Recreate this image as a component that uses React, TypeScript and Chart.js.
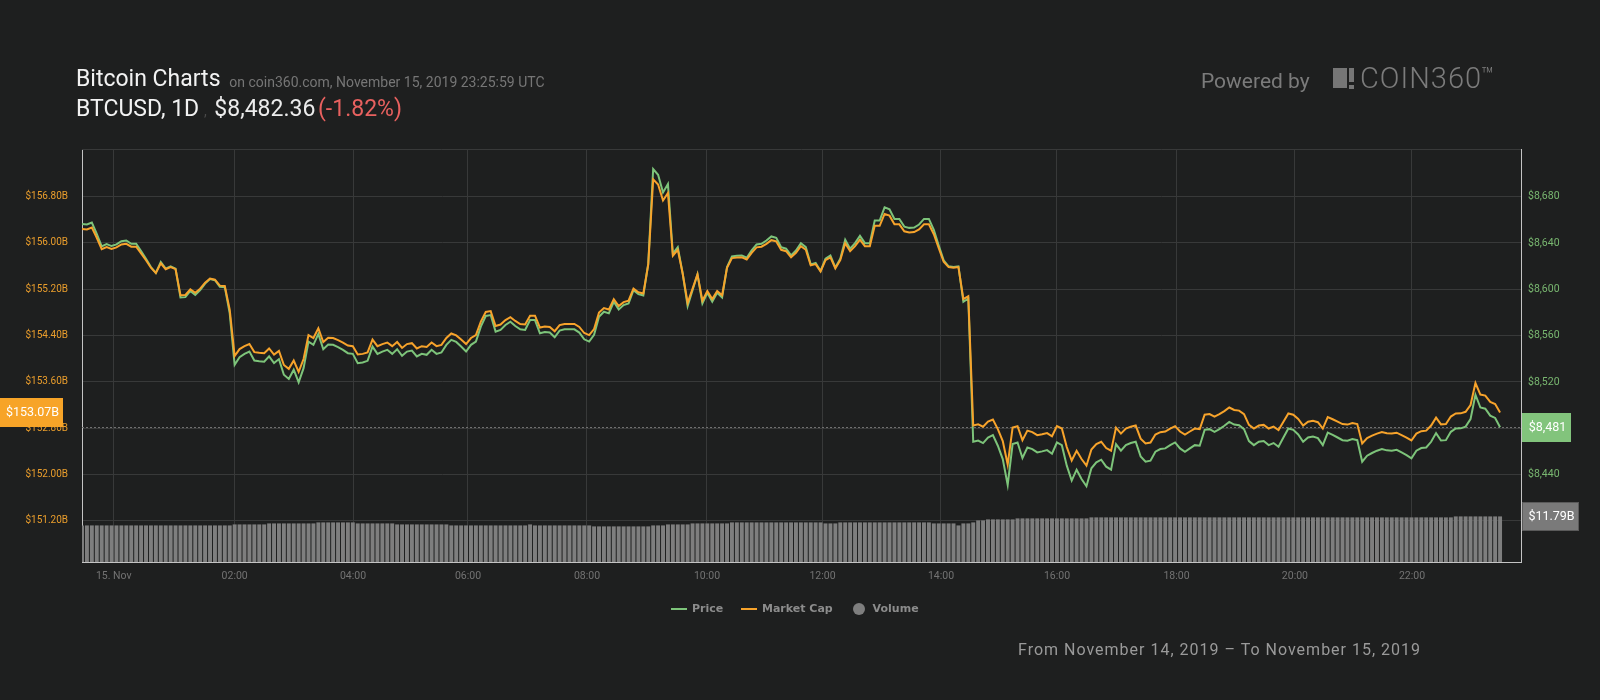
import React, { useEffect, useRef } from "react";
import { Chart, registerables } from "chart.js";

Chart.register(...registerables);

// ---- Data (5-minute samples, Nov 14 23:25 -> Nov 15 23:25 UTC) ----
const price = [
  8656.5, 8656.0, 8657.7, 8648.0, 8637.1, 8639.1, 8637.4, 8638.8, 8641.6, 8642.2,
  8639.4, 8639.4, 8633.1, 8626.5, 8619.3, 8614.2, 8623.6, 8617.9, 8619.9, 8617.9,
  8593.0, 8593.3, 8598.7, 8595.3, 8599.3, 8605.0, 8609.0, 8607.9, 8602.2, 8601.9,
  8579.3, 8534.9, 8541.5, 8544.3, 8546.3, 8538.6, 8538.0, 8537.5, 8542.1, 8536.3,
  8539.8, 8526.3, 8522.6, 8530.6, 8519.7, 8532.0, 8554.9, 8552.1, 8561.5, 8548.3,
  8552.4, 8552.1, 8550.1, 8547.8, 8544.9, 8544.3, 8536.3, 8536.9, 8538.3, 8550.6,
  8544.3, 8546.3, 8547.8, 8544.3, 8548.3, 8542.6, 8546.3, 8547.2, 8542.1, 8544.3,
  8543.5, 8547.8, 8544.3, 8545.5, 8552.1, 8556.4, 8554.6, 8550.6, 8546.3, 8552.1,
  8554.9, 8567.8, 8577.0, 8577.8, 8563.5, 8565.0, 8569.2, 8572.1, 8568.4, 8565.5,
  8565.0, 8573.5, 8573.5, 8562.1, 8563.2, 8562.7, 8558.6, 8564.4, 8565.5, 8565.5,
  8565.5, 8562.7, 8556.9, 8554.9, 8560.7, 8576.4, 8580.7, 8579.3, 8589.3, 8582.7,
  8586.4, 8587.8, 8599.3, 8595.9, 8594.7, 8622.2, 8703.8, 8698.9, 8683.7, 8690.9,
  8630.8, 8636.5, 8613.6, 8585.6, 8599.3, 8613.0, 8587.8, 8597.0, 8589.3, 8597.0,
  8593.0, 8619.3, 8628.5, 8629.1, 8629.3, 8627.3, 8633.6, 8638.8, 8639.4, 8642.2,
  8645.7, 8644.5, 8636.5, 8635.1, 8629.3, 8633.6, 8639.9, 8636.5, 8621.6, 8622.8,
  8615.9, 8626.5, 8629.3, 8618.8, 8626.5, 8642.8, 8635.1, 8639.9, 8646.2, 8639.9,
  8639.9, 8659.4, 8659.4, 8670.8, 8669.1, 8660.8, 8660.8, 8654.2, 8653.1, 8653.4,
  8656.0, 8660.8, 8660.8, 8651.4, 8637.9, 8625.0, 8619.9, 8619.3, 8619.9, 8589.3,
  8592.1, 8468.4, 8469.5, 8467.3, 8472.1, 8474.1, 8465.0, 8453.5, 8431.1, 8466.4,
  8467.8, 8454.4, 8463.5, 8462.1, 8459.2, 8460.1, 8461.2, 8458.1, 8467.8, 8465.5,
  8447.8, 8434.9, 8444.3, 8436.3, 8430.0, 8445.5, 8450.6, 8452.9, 8446.9, 8444.3,
  8466.4, 8460.7, 8465.5, 8467.3, 8468.4, 8455.8, 8451.2, 8452.1, 8459.8, 8462.1,
  8462.7, 8465.5, 8467.8, 8462.7, 8459.8, 8462.7, 8465.5, 8465.0, 8478.7, 8479.3,
  8477.0, 8479.3, 8482.2, 8485.6, 8483.3, 8482.7, 8479.3, 8469.0, 8465.5, 8468.4,
  8469.0, 8465.5, 8467.3, 8464.1, 8472.1, 8479.9, 8478.7, 8474.7, 8468.4, 8472.1,
  8473.0, 8471.6, 8465.5, 8476.4, 8474.4, 8472.1, 8469.8, 8469.3, 8470.7, 8469.8,
  8451.2, 8456.4, 8458.7, 8460.7, 8462.1, 8461.0, 8460.7, 8461.5, 8459.2, 8456.9,
  8454.1, 8460.7, 8463.0, 8463.5, 8468.4, 8475.9, 8469.5, 8469.8, 8477.0, 8479.9,
  8480.0, 8481.5, 8488.0, 8509.0, 8498.0, 8497.0, 8491.0, 8489.0, 8481.0,
];

// Market cap, billions USD
const marketCap = [
  156.241, 156.232, 156.263, 156.088, 155.891, 155.927, 155.896, 155.922, 155.972, 155.983,
  155.933, 155.933, 155.819, 155.700, 155.570, 155.478, 155.647, 155.545, 155.581, 155.545,
  155.095, 155.101, 155.198, 155.137, 155.209, 155.312, 155.384, 155.364, 155.261, 155.256,
  154.848, 154.046, 154.166, 154.216, 154.252, 154.113, 154.102, 154.093, 154.176, 154.072,
  154.135, 153.891, 153.824, 153.969, 153.772, 153.994, 154.407, 154.357, 154.526, 154.288,
  154.362, 154.357, 154.321, 154.279, 154.227, 154.216, 154.072, 154.083, 154.108, 154.330,
  154.216, 154.252, 154.279, 154.216, 154.288, 154.185, 154.252, 154.268, 154.176, 154.216,
  154.202, 154.279, 154.216, 154.238, 154.357, 154.435, 154.402, 154.330, 154.252, 154.357,
  154.407, 154.640, 154.806, 154.821, 154.563, 154.590, 154.666, 154.718, 154.651, 154.599,
  154.590, 154.743, 154.743, 154.537, 154.557, 154.548, 154.474, 154.579, 154.599, 154.599,
  154.599, 154.548, 154.443, 154.407, 154.512, 154.795, 154.873, 154.848, 155.028, 154.909,
  154.976, 155.001, 155.209, 155.147, 155.126, 155.622, 157.095, 157.006, 156.732, 156.862,
  155.777, 155.880, 155.467, 154.961, 155.209, 155.456, 155.001, 155.167, 155.028, 155.167,
  155.095, 155.570, 155.736, 155.747, 155.750, 155.714, 155.828, 155.922, 155.933, 155.983,
  156.046, 156.025, 155.880, 155.855, 155.750, 155.828, 155.942, 155.880, 155.611, 155.633,
  155.508, 155.700, 155.750, 155.561, 155.700, 155.994, 155.855, 155.942, 156.055, 155.942,
  155.942, 156.294, 156.294, 156.499, 156.469, 156.319, 156.319, 156.200, 156.180, 156.185,
  156.232, 156.319, 156.319, 156.149, 155.906, 155.673, 155.581, 155.570, 155.581, 155.028,
  155.079, 152.846, 152.866, 152.826, 152.913, 152.949, 152.785, 152.577, 152.173, 152.810,
  152.835, 152.593, 152.758, 152.732, 152.680, 152.696, 152.716, 152.660, 152.835, 152.794,
  152.474, 152.242, 152.411, 152.267, 152.153, 152.433, 152.525, 152.566, 152.458, 152.411,
  152.810, 152.707, 152.794, 152.826, 152.846, 152.619, 152.536, 152.552, 152.691, 152.732,
  152.743, 152.794, 152.835, 152.743, 152.691, 152.743, 152.794, 152.785, 153.032, 153.043,
  153.001, 153.043, 153.095, 153.157, 153.115, 153.104, 153.043, 152.857, 152.794, 152.846,
  152.857, 152.794, 152.826, 152.769, 152.913, 153.054, 153.032, 152.960, 152.846, 152.913,
  152.929, 152.904, 152.794, 152.991, 152.954, 152.913, 152.871, 152.862, 152.888, 152.871,
  152.536, 152.630, 152.671, 152.707, 152.732, 152.713, 152.707, 152.722, 152.680, 152.639,
  152.588, 152.707, 152.749, 152.758, 152.846, 152.982, 152.866, 152.871, 153.001, 153.054,
  153.056, 153.083, 153.200, 153.579, 153.380, 153.362, 153.254, 153.218, 153.070,
];

// 24h volume, billions USD
const volume = [
  9.46, 9.46, 9.46, 9.46, 9.46, 9.46, 9.46, 9.46, 9.46, 9.46,
  9.46, 9.46, 9.46, 9.46, 9.46, 9.46, 9.46, 9.46, 9.46, 9.46,
  9.46, 9.46, 9.46, 9.46, 9.46, 9.46, 9.46, 9.46, 9.46, 9.46,
  9.46, 9.72, 9.72, 9.72, 9.72, 9.72, 9.72, 9.72, 9.98, 9.98,
  9.98, 9.98, 9.98, 9.98, 9.98, 9.98, 9.98, 9.98, 10.24, 10.24,
  10.24, 10.24, 10.24, 10.24, 10.24, 10.24, 9.98, 9.98, 9.98, 9.98,
  9.98, 9.98, 9.98, 9.98, 9.72, 9.72, 9.72, 9.72, 9.72, 9.72,
  9.72, 9.72, 9.72, 9.72, 9.72, 9.46, 9.46, 9.46, 9.46, 9.46,
  9.46, 9.46, 9.46, 9.46, 9.46, 9.46, 9.46, 9.46, 9.46, 9.46,
  9.46, 9.72, 9.46, 9.46, 9.46, 9.46, 9.46, 9.46, 9.46, 9.46,
  9.46, 9.46, 9.46, 9.46, 9.21, 9.21, 9.21, 9.21, 9.21, 9.21,
  9.21, 9.21, 9.21, 9.21, 9.21, 9.21, 9.46, 9.46, 9.46, 9.72,
  9.72, 9.72, 9.72, 9.72, 9.98, 9.98, 9.98, 9.98, 9.98, 9.98,
  9.98, 9.98, 10.24, 10.24, 10.24, 10.24, 10.24, 10.24, 10.24, 10.24,
  10.24, 10.24, 10.24, 10.24, 10.24, 10.24, 10.24, 10.24, 10.24, 10.24,
  10.24, 9.98, 9.98, 9.98, 10.24, 10.24, 10.24, 10.24, 10.24, 10.24,
  10.24, 10.24, 10.24, 10.24, 10.24, 10.24, 10.24, 10.24, 10.24, 10.24,
  10.24, 10.24, 10.24, 9.98, 9.98, 9.98, 9.98, 9.98, 9.46, 9.98,
  9.98, 10.24, 10.76, 10.76, 11.02, 11.02, 11.02, 11.02, 11.02, 11.02,
  11.28, 11.28, 11.28, 11.28, 11.28, 11.28, 11.28, 11.28, 11.28, 11.28,
  11.28, 11.28, 11.28, 11.28, 11.28, 11.54, 11.54, 11.54, 11.54, 11.54,
  11.54, 11.54, 11.54, 11.54, 11.54, 11.54, 11.54, 11.54, 11.54, 11.54,
  11.54, 11.54, 11.54, 11.54, 11.54, 11.54, 11.54, 11.54, 11.54, 11.54,
  11.54, 11.54, 11.54, 11.54, 11.54, 11.54, 11.54, 11.54, 11.54, 11.54,
  11.54, 11.54, 11.54, 11.54, 11.54, 11.54, 11.54, 11.54, 11.54, 11.54,
  11.54, 11.54, 11.54, 11.54, 11.54, 11.54, 11.54, 11.54, 11.54, 11.54,
  11.54, 11.54, 11.54, 11.54, 11.54, 11.54, 11.54, 11.54, 11.54, 11.54,
  11.54, 11.54, 11.54, 11.54, 11.54, 11.54, 11.54, 11.54, 11.54, 11.79,
  11.79, 11.79, 11.79, 11.79, 11.79, 11.79, 11.79, 11.79, 11.79,
];

// x-axis: sample index where each time label falls
const timeTickIndex = [6.44, 31.01, 55.04, 78.39, 102.56, 126.93, 150.39, 174.45, 198.01, 222.28, 246.34, 270.11];
const timeTickLabels = ["15. Nov", "02:00", "04:00", "06:00", "08:00", "10:00", "12:00", "14:00", "16:00", "18:00", "20:00", "22:00"];
const capTicks = [151.2, 152.0, 152.8, 153.6, 154.4, 155.2, 156.0, 156.8];
const priceTicks = [8400, 8440, 8480, 8520, 8560, 8600, 8640, 8680];
const capMin = 150.49;
const capMax = 157.62;
const priceMin = 8364.6;
const priceMax = 8721.2;
const volumeMax = 106.8;
const xMax = 292.25;

const FONT = "Roboto, 'DejaVu Sans', sans-serif";
const GRID = "#383939";
const AXIS = "#c4c4c4";

function drawTag(ctx: CanvasRenderingContext2D, x: number, cy: number, w: number, h: number, fill: string, text: string, stroke?: string) {
  const top = Math.round(cy - h / 2);
  ctx.fillStyle = fill;
  ctx.fillRect(x, top, w, h);
  if (stroke) {
    ctx.strokeStyle = stroke;
    ctx.lineWidth = 1;
    ctx.strokeRect(x + 0.5, top + 0.5, w - 1, h - 1);
  }
  ctx.fillStyle = "#ffffff";
  ctx.font = `12.5px ${FONT}`;
  ctx.textAlign = "center";
  ctx.textBaseline = "middle";
  ctx.fillText(text, x + w / 2 + 1, top + h / 2 + 0.5);
}

const overlayPlugin = {
  id: "overlay",
  beforeDatasetsDraw(chart: any) {
    const { ctx, chartArea: a, scales } = chart;
    ctx.save();
    ctx.strokeStyle = GRID;
    ctx.lineWidth = 1;
    ctx.beginPath();
    ctx.moveTo(a.left, a.top + 0.5);
    ctx.lineTo(a.right, a.top + 0.5);
    ctx.stroke();
    const yP = Math.round(scales.yPrice.getPixelForValue(price[price.length - 1])) + 0.5;
    ctx.setLineDash([2, 2]);
    ctx.strokeStyle = "#707070";
    ctx.beginPath();
    ctx.moveTo(a.left, yP);
    ctx.lineTo(a.right, yP);
    ctx.stroke();
    ctx.restore();
  },
  afterDraw(chart: any) {
    const { ctx, chartArea: a, scales } = chart;
    ctx.save();
    const lastCap = marketCap[marketCap.length - 1];
    const lastPrice = price[price.length - 1];
    const lastVol = volume[volume.length - 1];
    drawTag(ctx, 0, scales.yCap.getPixelForValue(lastCap), 63, 29, "#f7a428", "$" + lastCap.toFixed(2) + "B");
    drawTag(ctx, a.right + 1, scales.yPrice.getPixelForValue(lastPrice), 49, 29, "#82c47c", "$" + Math.round(lastPrice).toLocaleString("en-US"));
    drawTag(ctx, a.right + 1, scales.yVol.getPixelForValue(lastVol), 57, 29, "#7a7a7a", "$" + lastVol.toFixed(2) + "B", "#5a5a5a");
    ctx.restore();
  },
};

function Txt(p: { x: number; base: number; size: number; color: string; weight?: number; family?: string; spacing?: number; children: any }) {
  return (
    <div
      style={{
        position: "absolute",
        left: p.x,
        top: p.base - 0.842 * p.size,
        fontSize: p.size,
        lineHeight: `${p.size}px`,
        color: p.color,
        fontWeight: p.weight ?? 400,
        fontFamily: p.family ?? FONT,
        letterSpacing: p.spacing ?? 0,
        whiteSpace: "nowrap",
      }}
    >
      {p.children}
    </div>
  );
}

export default function App() {
  const ref = useRef<HTMLCanvasElement>(null);

  useEffect(() => {
    document.body.style.margin = "0";
    const canvas = ref.current!;
    const chart = new Chart(canvas, {
      type: "line",
      data: {
        datasets: [
          {
            label: "Market Cap",
            data: marketCap.map((v, i) => ({ x: i, y: v })),
            yAxisID: "yCap",
            borderColor: "#f7a32b",
            borderWidth: 2,
            pointRadius: 0,
            tension: 0,
            order: 1,
          } as any,
          {
            label: "Price",
            data: price.map((v, i) => ({ x: i, y: v })),
            yAxisID: "yPrice",
            borderColor: "#7dc47a",
            borderWidth: 2,
            pointRadius: 0,
            tension: 0,
            order: 2,
          } as any,
          {
            type: "bar",
            label: "Volume",
            data: volume.map((v, i) => ({ x: i, y: v })),
            yAxisID: "yVol",
            backgroundColor: "#7e7e7e",
            borderWidth: 0,
            barPercentage: 0.8,
            categoryPercentage: 1,
            order: 3,
          } as any,
        ],
      },
      options: {
        responsive: false,
        animation: false,
        devicePixelRatio: 1,
        events: [],
        layout: { padding: { top: 149, left: 0, right: 0, bottom: 0 } },
        plugins: { legend: { display: false }, tooltip: { enabled: false } },
        scales: {
          x: {
            type: "linear",
            min: 0,
            max: xMax,
            offset: false,
            afterFit: (s: any) => { s.height = 138; },
            afterBuildTicks: (s: any) => { s.ticks = timeTickIndex.map((v) => ({ value: v })); },
            grid: { color: GRID, drawTicks: false, offset: false },
            border: { color: AXIS, width: 1 },
            ticks: {
              autoSkip: false,
              maxRotation: 0,
              padding: 8,
              color: "#737373",
              font: { family: FONT, size: 10.5 },
              callback: (_v: any, i: number) => timeTickLabels[i],
            },
          },
          yCap: {
            type: "linear",
            position: "left",
            min: capMin,
            max: capMax,
            afterFit: (s: any) => { s.width = 82; },
            afterBuildTicks: (s: any) => { s.ticks = capTicks.map((v) => ({ value: v })); },
            grid: { color: GRID, drawTicks: false },
            border: { color: AXIS, width: 1 },
            ticks: {
              padding: 14,
              color: "#e99d2c",
              font: { family: FONT, size: 10 },
              callback: (v: any) => "$" + Number(v).toFixed(2) + "B",
            },
          },
          yPrice: {
            type: "linear",
            position: "right",
            min: priceMin,
            max: priceMax,
            afterFit: (s: any) => { s.width = 79; },
            afterBuildTicks: (s: any) => { s.ticks = priceTicks.map((v) => ({ value: v })); },
            grid: { drawOnChartArea: false, drawTicks: false },
            border: { color: AXIS, width: 1 },
            ticks: {
              padding: 7,
              color: "#79b770",
              font: { family: FONT, size: 10.5 },
              callback: (v: any) => "$" + Number(v).toLocaleString("en-US"),
            },
          },
          yVol: { type: "linear", display: false, min: 0, max: volumeMax },
        },
      } as any,
      plugins: [overlayPlugin as any],
    });
    return () => chart.destroy();
  }, []);

  return (
    <div style={{ position: "absolute", left: 0, top: 0, width: 1600, height: 700, background: "#1e1f1f", overflow: "hidden" }}>
      <canvas ref={ref} width={1600} height={700} style={{ position: "absolute", left: 0, top: 0, width: 1600, height: 700 }} />

      <Txt x={76} base={86.7} size={23} color="#f2f2f2">Bitcoin Charts</Txt>
      <Txt x={229.3} base={86.7} size={14} color="#767676">on coin360.com, November 15, 2019 23:25:59 UTC</Txt>
      <Txt x={76} base={116} size={23} color="#f2f2f2">BTCUSD, 1D</Txt>
      <Txt x={204} base={116} size={14} color="#4a4a4a">,</Txt>
      <Txt x={214.3} base={116} size={23} color="#ececec">$8,482.36</Txt>
      <Txt x={318} base={116} size={23} color="#e8615f">(-1.82%)</Txt>

      <Txt x={1201} base={88.3} size={21} color="#7b7b7b">Powered by</Txt>
      <div style={{ position: "absolute", left: 1333, top: 68, width: 14, height: 20, background: "#767676" }} />
      <div style={{ position: "absolute", left: 1349, top: 68, width: 5, height: 14, background: "#767676" }} />
      <div style={{ position: "absolute", left: 1349, top: 85, width: 5, height: 3.5, background: "#767676" }} />
      <Txt x={1360} base={88.3} size={29} weight={300} spacing={1} color="#7b7b7b">COIN360</Txt>
      <Txt x={1481} base={83} size={21} weight={300} color="#7b7b7b">™</Txt>

      {/* legend */}
      <div style={{ position: "absolute", left: 671, top: 607.5, width: 16, height: 2, background: "#7dc47a" }} />
      <Txt x={692} base={612.5} size={11} weight={700} family="'DejaVu Sans', sans-serif" color="#8c8c8c">Price</Txt>
      <div style={{ position: "absolute", left: 741, top: 607.5, width: 16, height: 2, background: "#f7a32b" }} />
      <Txt x={762} base={612.5} size={11} weight={700} family="'DejaVu Sans', sans-serif" color="#8c8c8c">Market Cap</Txt>
      <div style={{ position: "absolute", left: 853, top: 602.5, width: 12, height: 12, borderRadius: 6, background: "#7e7e7e" }} />
      <Txt x={872.6} base={612.5} size={11} weight={700} family="'DejaVu Sans', sans-serif" color="#8c8c8c">Volume</Txt>

      <Txt x={1018} base={655.7} size={16} spacing={1} color="#9a9a9a">From November 14, 2019 – To November 15, 2019</Txt>
    </div>
  );
}
